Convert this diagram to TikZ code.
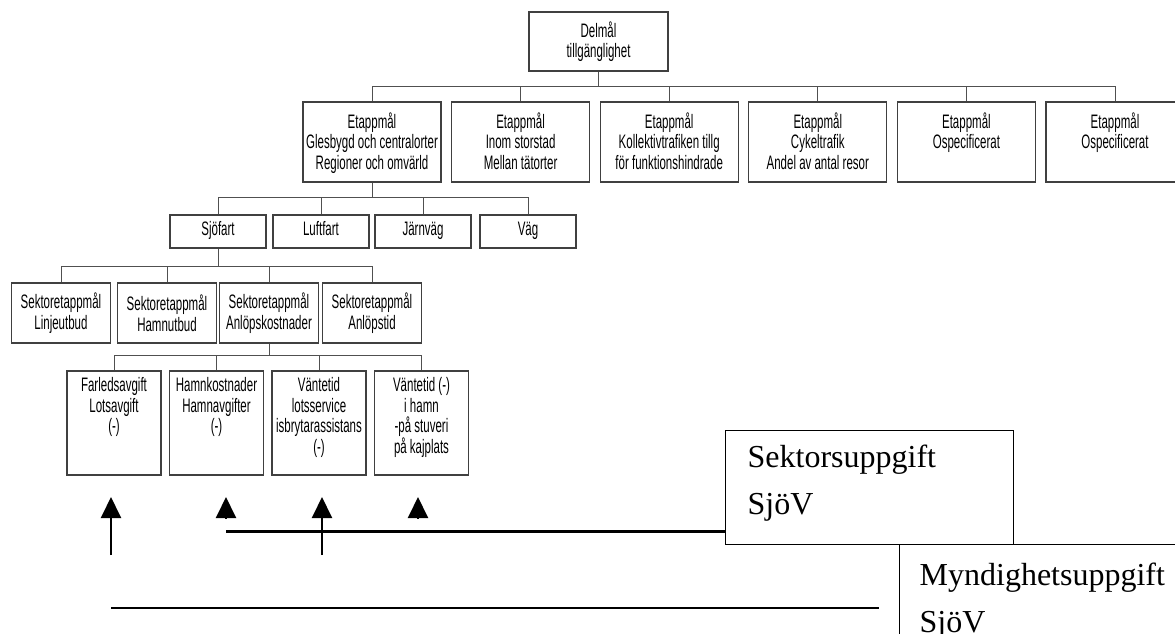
\documentclass[tikz,border=0pt]{standalone}
\usepackage{fontspec}
\setmainfont{Liberation Sans}
\newfontfamily\narrowsans[FakeStretch=0.59]{Liberation Sans}
\newfontfamily\timesfont{Liberation Serif}
\usetikzlibrary{arrows.meta,positioning,calc}
\definecolor{boxgray}{HTML}{404040}
\definecolor{linegray}{HTML}{505050}

% text inside a box: width, height, vertical position, top pad, text
\newcommand{\boxtext}[5]{\parbox[c][#2][#3]{#1}{\centering\vspace*{#4}\strut #5\par}}
% left aligned text for the task boxes
\newcommand{\taskbox}[5]{\parbox[c][#2][t]{#1}{\raggedright\leftskip=#4\vspace*{#3}\strut #5\par}}

\tikzset{
  goal/.style={draw=boxgray, line width=1.2pt, inner sep=0pt, fill=white,
    font=\narrowsans\fontsize{19.5}{20.5}\selectfont},
  conn/.style={draw=linegray, line width=1pt},
  task/.style={draw=black, line width=1.3pt, inner sep=0pt, anchor=north west,
    font=\timesfont\fontsize{32}{47}\selectfont},
  uparrow/.style={-{Triangle[width=20pt,length=21pt]}, line width=2pt},
}

\begin{document}
\begin{tikzpicture}[x=1pt,y=-1pt]
    \fill[white] (0,0) rectangle (1175,633);
    \useasboundingbox (0,0) rectangle (1175,633);

    % Delmål
    \node[goal] (delmal) at (598.5,41.5) {\boxtext{139pt}{59pt}{c}{0pt}{Delmål\\tillgänglighet}};

    % Etappmål
    \foreach \i/\x/\txt in {1/372/{Etappmål\\Glesbygd och centralorter\\Regioner och omvärld},
                            2/520.6/{Etappmål\\Inom storstad\\Mellan tätorter},
                            3/669.2/{Etappmål\\Kollektivtrafiken tillg\\för funktionshindrade},
                            4/817.8/{Etappmål\\Cykeltrafik\\Andel av antal resor},
                            5/966.4/{Etappmål\\Ospecificerat},
                            6/1115/{Etappmål\\Ospecificerat}}
        \node[goal] (etapp\i) at (\x,142) {\boxtext{138pt}{80pt}{t}{10.5pt}{\txt}};

    \foreach \i in {1,...,6}
        \draw[conn] (delmal.south) -- ++(0,15) -| (etapp\i.north);

    % Trafikslag
    \foreach \n/\x/\txt in {sjofart/218/Sjöfart, luftfart/321/Luftfart,
                            jarnvag/423/Järnväg, vag/528/Väg}
        \node[goal] (\n) at (\x,231.5) {\boxtext{96pt}{33pt}{c}{0pt}{\txt}};

    \foreach \n in {sjofart,luftfart,jarnvag,vag}
        \draw[conn] (etapp1.south) -- ++(0,15) -| (\n.north);

    % Sektoretappmål
    \foreach \i/\x/\txt in {1/61/Linjeutbud, 2/167/Hamnutbud,
                            3/269/Anlöpskostnader, 4/372/Anlöpstid}
        \node[goal] (sek\i) at (\x,313) {\boxtext{99pt}{60pt}{c}{0pt}{Sektoretappmål\\\txt}};

    \foreach \i in {1,...,4}
        \draw[conn] (sjofart.south) -- ++(0,18) -| (sek\i.north);

    % Kostnader
    \foreach \i/\x/\txt in {1/114/{Farledsavgift\\Lotsavgift\\(-)},
                            2/216.5/{Hamnkostnader\\Hamnavgifter\\(-)},
                            3/319/{Väntetid\\lotsservice\\isbrytarassistans\\(-)},
                            4/421.5/{Väntetid (-)\\i hamn\\-på stuveri\\på kajplats}}
        \node[goal] (kost\i) at (\x,423) {\boxtext{94pt}{104pt}{t}{6.6pt}{\txt}};

    \foreach \i in {1,...,4}
        \draw[conn] (sek3.south) -- ++(0,12) -| (kost\i.north);

    % Uppgifter
    \node[task] (sekt) at (725,430) {\taskbox{288pt}{114pt}{4pt}{22pt}{Sektorsuppgift\\SjöV}};
    \node[task] (mynd) at (899,544) {\taskbox{288pt}{114pt}{8pt}{20pt}{Myndighetsuppgift\\SjöV}};

    % Pilar
    \foreach \x [count=\k] in {111,226,322,418} {
        \coordinate (foot\k) at (\x,555);
        \coordinate (base\k) at (\x,518);
        \coordinate (tip\k) at (\x,497);
    }
    \draw[uparrow] (foot1) -- (tip1);
    \draw[uparrow] (foot3) -- (tip3);
    \draw[uparrow] (base2) -- (tip2);
    \draw[uparrow] (base4) -- (tip4);

    \coordinate (sektfrom) at (226,531);
    \draw[line width=3pt] (sektfrom) -- (sektfrom -| sekt.west);
    \coordinate (myndfrom) at (111,608);
    \coordinate (myndto) at (879,608);
    \draw[line width=2pt] (myndfrom) -- (myndto);
\end{tikzpicture}
\end{document}
